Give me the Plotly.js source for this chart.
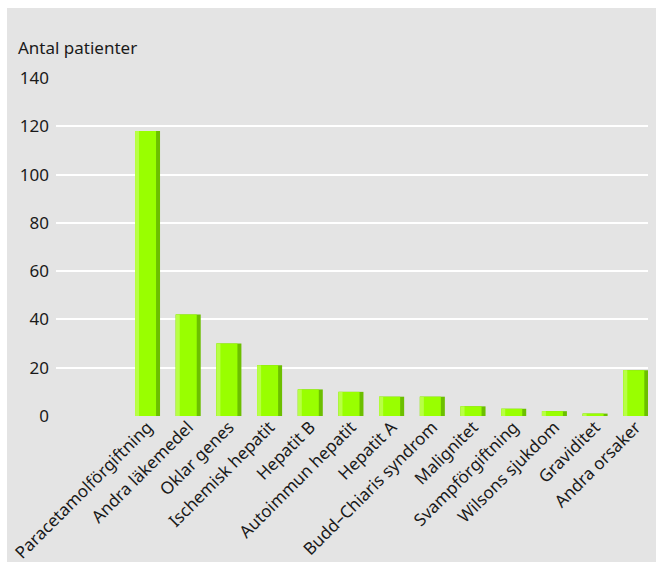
<!DOCTYPE html>
<html>
<head>
<meta charset="utf-8">
<script src="https://cdn.plot.ly/plotly-3.0.1.min.js"></script>
<style>
  html, body { margin: 0; padding: 0; background: #ffffff; }
  #chart { position: absolute; left: 7px; top: 8px; width: 649px; height: 554px; }
</style>
</head>
<body>
<div id="chart"></div>
<script>
// Causes of acute liver failure, number of patients per cause
const causes = [
  "Paracetamolförgiftning",
  "Andra läkemedel",
  "Oklar genes",
  "Ischemisk hepatit",
  "Hepatit B",
  "Autoimmun hepatit",
  "Hepatit A",
  "Budd–Chiaris syndrom",
  "Malignitet",
  "Svampförgiftning",
  "Wilsons sjukdom",
  "Graviditet",
  "Andra orsaker"
];
const patients = [118, 42, 30, 21, 11, 10, 8, 8, 4, 3, 2, 1, 19];
const yTicks = [0, 20, 40, 60, 80, 100, 120, 140];

// Each bar is built from three overlaid layers to give a bevelled look:
// a dark full-width base, the bright face, and a light left edge.
const slot = 0.614;      // bar width in category units
const edge = 0.098;      // width of each bevel strip
const base = {
  type: "bar",
  x: causes,
  y: patients,
  hoverinfo: "x+y",
  marker: { line: { width: 0 } }
};
const traces = [
  Object.assign({}, base, {
    width: causes.map(() => slot),
    offset: causes.map(() => -slot / 2),
    marker: { color: "#6cbf00", line: { width: 0 } }
  }),
  Object.assign({}, base, {
    width: causes.map(() => slot - edge),
    offset: causes.map(() => -slot / 2),
    marker: { color: "#99ff00", line: { width: 0 } }
  }),
  Object.assign({}, base, {
    width: causes.map(() => edge),
    offset: causes.map(() => -slot / 2),
    marker: { color: "#b8ff45", line: { width: 0 } }
  })
];

const font = { family: "Noto Sans, Open Sans, sans-serif", size: 17, color: "#1a1a1a" };

const layout = {
  width: 649,
  height: 554,
  paper_bgcolor: "#e4e4e4",
  plot_bgcolor: "#e4e4e4",
  font: font,
  showlegend: false,
  barmode: "overlay",
  margin: { l: 49, r: 8, t: 70, b: 146, pad: 0 },
  title: {
    text: "Antal patienter",
    font: font,
    xref: "container",
    yref: "container",
    x: 11 / 649,
    xanchor: "left",
    y: 1 - 40 / 554,
    yanchor: "middle"
  },
  xaxis: {
    type: "category",
    range: [-2.25, 12.3],
    tickangle: -45,
    tickfont: font,
    showgrid: false,
    zeroline: false,
    showline: false,
    ticks: "",
    ticklabelstandoff: -3
  },
  yaxis: {
    range: [0, 140],
    tickvals: yTicks,
    ticktext: yTicks.map(String),
    tickfont: font,
    showgrid: true,
    gridcolor: "#ffffff",
    gridwidth: 2,
    zeroline: true,
    zerolinecolor: "#e4e4e4",
    zerolinewidth: 3,
    showline: false,
    ticks: "",
    ticklabelstandoff: 6
  }
};

Plotly.newPlot("chart", traces, layout, { displayModeBar: false, staticPlot: true });
</script>
</body>
</html>
